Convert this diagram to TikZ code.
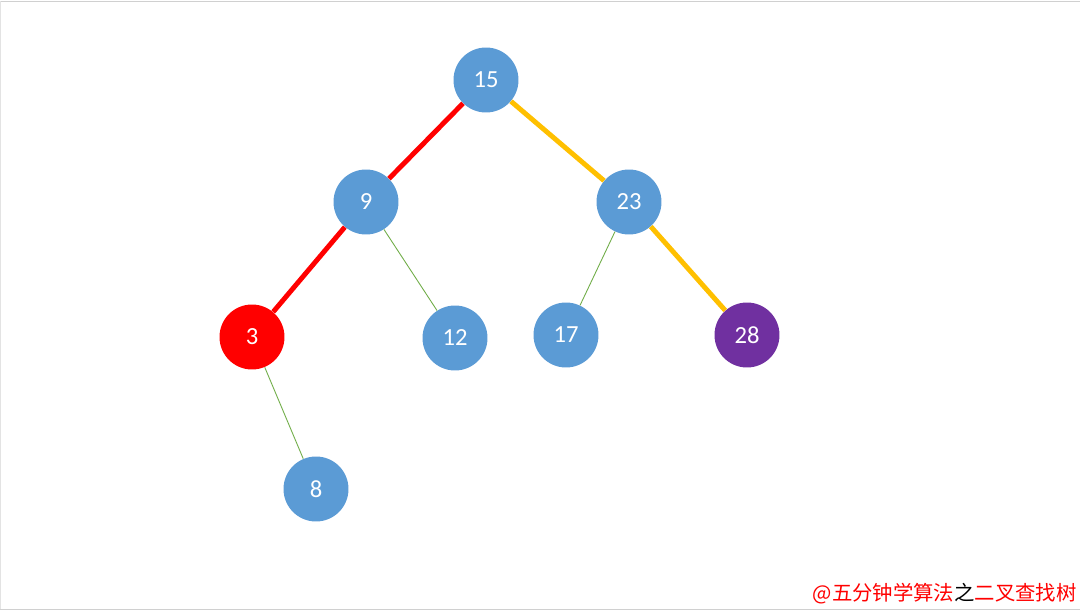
\documentclass[tikz,border=0pt]{standalone}
\usepackage{fontspec}
\setmainfont{Carlito}
\newfontfamily\cjk{Noto Sans CJK SC}
\definecolor{nblue}{HTML}{5B9BD5}
\definecolor{nred}{HTML}{FF0000}
\definecolor{npurple}{HTML}{7030A0}
\definecolor{eyellow}{HTML}{FFC000}
\definecolor{egreen}{HTML}{70AD47}
\definecolor{frame}{HTML}{D0D0D0}
\begin{document}
\begin{tikzpicture}[x=0.02cm,y=-0.02cm,
  tn/.style={circle,minimum size=1.3cm,inner sep=0pt,text=white,font=\fontsize{14}{16}\selectfont},
  bluen/.style={tn,fill=nblue},
  redn/.style={tn,fill=nred},
  purplen/.style={tn,fill=npurple},
  rede/.style={draw=nred,line width=2.8pt},
  yele/.style={draw=eyellow,line width=2.8pt},
  gree/.style={draw=egreen,line width=0.5pt}]
\useasboundingbox (0,0) rectangle (1080,611);
\fill[white] (0,0) rectangle (1080,611);
\draw[frame,line width=0.6pt] (0.5,1.5) -- (1079.5,1.5);
\draw[frame,line width=0.6pt] (0.5,609.5) -- (1079.5,609.5);
\draw[frame!60,line width=0.4pt] (0.5,1.5) -- (0.5,609.5);
\node[bluen] (n15) at (486,80) {15};
\node[bluen] (n9) at (366,202) {9};
\node[bluen] (n23) at (629,202) {23};
\node[redn] (n3) at (252,337) {3};
\node[bluen] (n12) at (455,338) {12};
\node[bluen] (n17) at (566,335) {17};
\node[purplen] (n28) at (747,335) {28};
\node[bluen] (n8) at (316,489) {8};
\draw[rede] (n15) -- (n9);
\draw[rede] (n9) -- (n3);
\draw[yele] (n15) -- (n23);
\draw[yele] (n23) -- (n28);
\draw[gree] (n9) -- (n12);
\draw[gree] (n23) -- (n17);
\draw[gree] (n3) -- (n8);
\node[anchor=east,inner sep=0pt,font=\cjk\fontsize{11.6}{13}\selectfont,text=nred] (cap) at (1077,594) {@五分钟学算法\textcolor{black}{之}二叉查找树};
\end{tikzpicture}
\end{document}
